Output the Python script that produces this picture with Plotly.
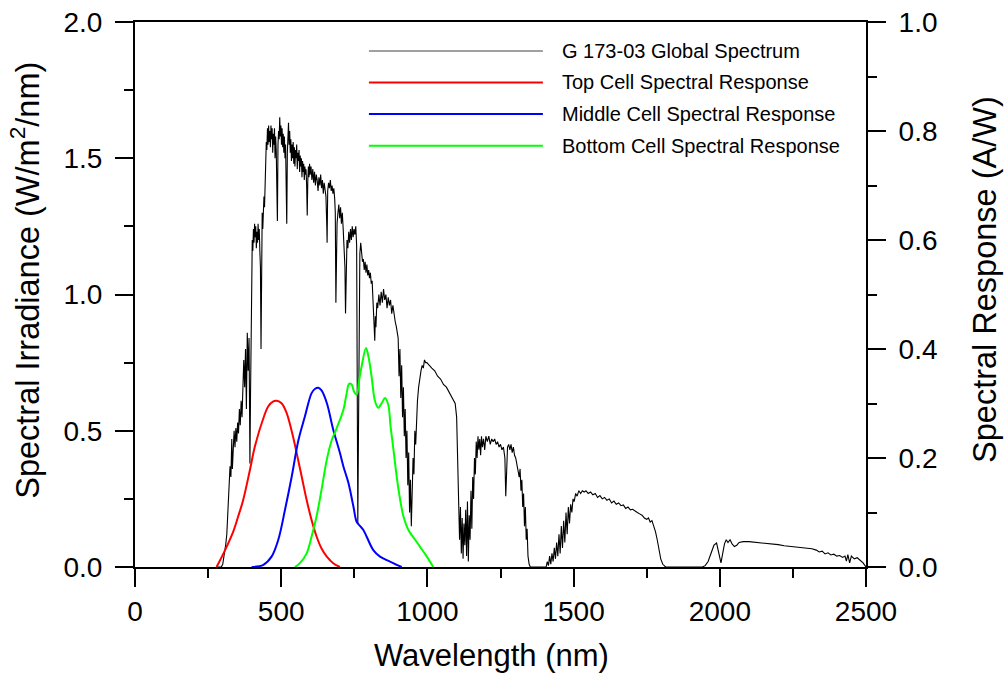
import plotly.graph_objects as go

# ---------------- data ----------------
# ASTM G173-03 global spectrum (nm, W/m^2/nm)
spec_wl = [
    280, 295, 300, 305, 310, 314, 318, 322, 325, 328,
    331, 333, 336, 339, 342, 345, 348, 351, 354, 357,
    360, 363, 366, 369, 372, 375, 378, 381, 384, 387,
    390, 392, 393, 395, 397, 399,
    401, 403, 405, 407, 409, 411, 413, 415, 417, 419,
    421, 423, 425, 427, 429, 431, 433, 435, 437, 439,
    441, 443, 445, 447, 449, 451, 453, 455, 457, 459,
    461, 463, 465, 467, 469, 471, 473, 475, 477, 479,
    481, 483, 485, 487, 489, 491, 493, 495, 497, 499,
    501, 503, 505, 507, 509, 511, 513, 515, 517, 519,
    521, 523, 525, 527, 529, 531, 533, 535, 537, 539,
    541, 543, 545, 547, 549, 551, 553, 555, 557, 559,
    561, 563, 565, 567, 569, 571, 573, 575, 577, 579,
    581, 583, 585, 587, 589, 591, 593, 595, 597, 599,
    602, 605, 608, 611, 614, 617, 620, 623, 626, 629,
    632, 635, 638, 641, 644, 647, 650, 653, 656, 657,
    659, 662, 665, 668, 671, 674, 677, 680, 683, 685,
    687, 689, 691, 694, 697, 700,
    703, 706, 709, 712, 715, 718, 720, 722, 725, 728,
    731, 734, 737, 740, 743, 746, 749, 752, 755, 758,
    760, 762, 764, 766, 769, 772, 775, 778, 781, 784,
    787, 790, 793, 796, 799,
    802, 805, 808, 811, 814, 817, 820, 822, 824, 827,
    830, 834, 838, 842, 846, 850, 854, 858, 862, 866,
    870, 874, 878, 882, 886, 890, 894, 897, 900, 903,
    906, 909, 912, 915, 918, 921, 924, 927, 930, 933,
    936, 939, 942, 945, 948, 951, 954, 957, 960, 963,
    966, 970, 974, 978, 982, 986, 990, 994, 998,
    1005, 1015, 1025, 1035, 1045, 1055, 1065, 1075, 1085, 1095,
    1100, 1104, 1107, 1110, 1113, 1116, 1119, 1122, 1125, 1128,
    1131, 1134, 1137, 1140, 1143, 1146, 1149, 1152, 1155, 1158,
    1161, 1164, 1167, 1170, 1173, 1176, 1179, 1182, 1185, 1188,
    1192, 1196, 1200, 1205, 1210, 1215, 1220, 1225, 1230, 1235,
    1240, 1245, 1250, 1255, 1260, 1265, 1268, 1271, 1274, 1278,
    1282, 1286, 1290, 1294, 1298, 1302, 1306, 1310, 1314, 1317,
    1320, 1323, 1326, 1329, 1332, 1335, 1338, 1341, 1344, 1348,
    1352, 1400,
    1406, 1410, 1414, 1418, 1422, 1426, 1430, 1434, 1438, 1442,
    1446, 1450, 1454, 1458, 1462, 1466, 1470, 1474, 1478, 1482,
    1486, 1490, 1494, 1498, 1502, 1507, 1512, 1518, 1524, 1530,
    1536, 1542, 1550, 1558, 1566, 1574, 1582, 1590, 1598, 1606,
    1614, 1622, 1630, 1638, 1646, 1654, 1662, 1670, 1678, 1686,
    1694, 1702, 1710, 1718, 1726, 1734, 1742, 1750, 1756, 1762,
    1768, 1774, 1780, 1786, 1792, 1798, 1805, 1815,
    1940, 1950, 1960, 1970, 1980, 1989, 1995, 2000, 2004, 2010,
    2016, 2022, 2028, 2035, 2042, 2050, 2058, 2066, 2080, 2100,
    2120, 2140, 2160, 2180, 2200, 2220, 2240, 2260, 2280, 2300,
    2315, 2330, 2340, 2350, 2360, 2370, 2380, 2390, 2400, 2410,
    2420, 2428, 2433, 2438, 2444, 2450, 2460, 2470, 2480, 2490,
    2500,
]
spec_irr = [
    0.0, 0.0, 0.01, 0.04, 0.08, 0.12, 0.20, 0.30, 0.37, 0.33,
    0.47, 0.36, 0.45, 0.50, 0.44, 0.51, 0.46, 0.53, 0.49, 0.58,
    0.52, 0.61, 0.55, 0.70, 0.76, 0.66, 0.80, 0.58, 0.86, 0.72,
    0.84, 0.55, 0.38, 0.62, 0.86, 1.05,
    1.20, 1.16, 1.24, 1.19, 1.26, 1.21, 1.25, 1.17, 1.23, 1.19,
    1.26, 1.20, 1.24, 1.16, 1.10, 0.80, 1.18, 1.30, 1.24, 1.29,
    1.36, 1.32, 1.40, 1.47, 1.56, 1.53, 1.61, 1.55, 1.62, 1.56,
    1.60, 1.54, 1.62, 1.57, 1.61, 1.52, 1.59, 1.55, 1.61, 1.50,
    1.58, 1.53, 1.44, 1.27, 1.55, 1.60, 1.57, 1.65, 1.58, 1.62,
    1.55, 1.61, 1.54, 1.59, 1.52, 1.58, 1.50, 1.55, 1.40, 1.26,
    1.52, 1.58, 1.63, 1.55, 1.60, 1.52, 1.57, 1.49, 1.55, 1.50,
    1.56, 1.48, 1.54, 1.47, 1.53, 1.50, 1.55, 1.46, 1.52, 1.49,
    1.53, 1.45, 1.51, 1.47, 1.50, 1.43, 1.49, 1.45, 1.48, 1.42,
    1.47, 1.44, 1.46, 1.40, 1.29, 1.42, 1.47, 1.43, 1.48, 1.44,
    1.47, 1.42, 1.46, 1.41, 1.45, 1.40, 1.44, 1.42, 1.38, 1.43,
    1.40, 1.44, 1.39, 1.42, 1.37, 1.41, 1.38, 1.36, 1.25, 1.19,
    1.38, 1.41, 1.39, 1.42, 1.38, 1.40, 1.37, 1.39, 1.35, 1.30,
    0.97, 1.15, 1.26, 1.30, 1.33, 1.28,
    1.32, 1.26, 1.30, 1.24, 1.18, 1.10, 0.93, 1.12, 1.20, 1.17,
    1.23, 1.19, 1.24, 1.20, 1.25, 1.21, 1.24, 1.22, 1.25, 1.18,
    0.70, 0.16, 0.45, 0.95, 1.15, 1.19, 1.14, 1.12, 1.13, 1.09,
    1.12, 1.08, 1.11, 1.07, 1.09,
    1.06, 1.08, 1.04, 1.05, 0.98, 0.90, 0.83, 0.92, 0.88, 0.97,
    0.95, 1.00, 0.96, 1.01, 0.97, 1.02, 0.98, 1.00, 0.95, 0.99,
    0.96, 0.98, 0.93, 0.96, 0.92, 0.90, 0.88, 0.86, 0.84, 0.70,
    0.80, 0.62, 0.74, 0.55, 0.66, 0.48, 0.58, 0.40, 0.50, 0.30,
    0.42, 0.20, 0.32, 0.15, 0.28, 0.40, 0.34, 0.50, 0.45, 0.58,
    0.61, 0.66, 0.70, 0.72, 0.74, 0.73, 0.76, 0.75, 0.75,
    0.74, 0.73, 0.72, 0.70, 0.69, 0.67, 0.66, 0.64, 0.62, 0.60,
    0.55, 0.40, 0.24, 0.10, 0.22, 0.05, 0.18, 0.03, 0.16, 0.08,
    0.21, 0.04, 0.24, 0.02, 0.19, 0.10, 0.28, 0.14, 0.33, 0.25,
    0.40, 0.34, 0.46, 0.40, 0.48, 0.43, 0.47, 0.41, 0.48, 0.44,
    0.47, 0.43, 0.48, 0.46, 0.48, 0.45, 0.47, 0.46, 0.47, 0.45,
    0.46, 0.44, 0.45, 0.43, 0.44, 0.40, 0.26, 0.38, 0.44, 0.45,
    0.43, 0.45, 0.42, 0.44, 0.41, 0.40, 0.38, 0.36, 0.33, 0.36,
    0.28, 0.32, 0.22, 0.27, 0.15, 0.22, 0.10, 0.14, 0.04, 0.01,
    0.0, 0.0,
    0.0, 0.02, 0.005, 0.04, 0.01, 0.05, 0.02, 0.07, 0.03, 0.09,
    0.04, 0.12, 0.05, 0.15, 0.07, 0.17, 0.09, 0.20, 0.12, 0.22,
    0.16, 0.23, 0.20, 0.25, 0.24, 0.27, 0.26, 0.28, 0.27, 0.28,
    0.275, 0.28, 0.27, 0.275, 0.265, 0.27, 0.255, 0.262, 0.25, 0.255,
    0.245, 0.25, 0.235, 0.242, 0.23, 0.235, 0.225, 0.228, 0.215, 0.22,
    0.21, 0.212, 0.205, 0.20, 0.195, 0.19, 0.18, 0.175, 0.18, 0.165,
    0.17, 0.15, 0.13, 0.10, 0.06, 0.03, 0.01, 0.0,
    0.0, 0.005, 0.02, 0.05, 0.08, 0.088, 0.06, 0.04, 0.015, 0.05,
    0.085, 0.10, 0.09, 0.10, 0.085, 0.075, 0.08, 0.09, 0.093, 0.093,
    0.091, 0.089, 0.087, 0.084, 0.082, 0.078, 0.076, 0.074, 0.072, 0.069,
    0.067, 0.062, 0.055, 0.058, 0.048, 0.052, 0.044, 0.047, 0.040, 0.042,
    0.035, 0.040, 0.022, 0.045, 0.015, 0.040, 0.030, 0.034, 0.025, 0.015,
    0.0,
]

# Spectral responses (nm, A/W)
top_wl = [279, 308, 336, 353, 370, 393, 410, 439, 456, 473, 485, 502,
          519, 536, 553, 570, 587, 604, 621, 638, 656, 678, 701]
top_sr = [0.0, 0.031, 0.065, 0.093, 0.123, 0.178, 0.221, 0.273, 0.295,
          0.304, 0.305, 0.300, 0.282, 0.249, 0.209, 0.166, 0.123, 0.086,
          0.056, 0.034, 0.019, 0.007, 0.0]

mid_wl = [399, 439, 467, 490, 513, 536, 559, 581, 604, 616, 627, 638,
          656, 678, 701, 713, 730, 747, 758, 770, 781, 792, 815, 838,
          872, 912]
mid_sr = [0.0, 0.004, 0.019, 0.050, 0.105, 0.166, 0.233, 0.276, 0.319,
          0.327, 0.329, 0.324, 0.301, 0.252, 0.209, 0.184, 0.154, 0.111,
          0.083, 0.075, 0.068, 0.056, 0.031, 0.019, 0.010, 0.0]

bot_wl = [547, 564, 587, 604, 621, 638, 656, 673, 690, 713, 724, 732,
          741, 749, 758, 767, 775, 790, 798, 809, 821, 832, 844, 855,
          866, 874, 884, 895, 907, 918, 935, 958, 975, 998, 1020]
bot_sr = [0.0, 0.007, 0.025, 0.056, 0.093, 0.142, 0.197, 0.233, 0.255,
          0.289, 0.319, 0.336, 0.335, 0.322, 0.316, 0.344, 0.368, 0.402,
          0.387, 0.350, 0.304, 0.292, 0.301, 0.310, 0.298, 0.258, 0.215,
          0.166, 0.123, 0.093, 0.068, 0.050, 0.037, 0.019, 0.0]

legend_labels = ["G 173-03 Global Spectrum", "Top Cell Spectral Response",
                 "Middle Cell Spectral Response", "Bottom Cell Spectral Response"]
x_ticks = [0, 500, 1000, 1500, 2000, 2500]
y_left_ticks = [0.0, 0.5, 1.0, 1.5, 2.0]
y_right_ticks = [0.0, 0.2, 0.4, 0.6, 0.8, 1.0]

# ---------------- figure ----------------
FONT = "Liberation Sans, Arial, sans-serif"
fig = go.Figure()
fig.add_trace(go.Scatter(x=spec_wl, y=spec_irr, mode="lines",
                         line=dict(color="black", width=1.1), name=legend_labels[0],
                         yaxis="y"))
fig.add_trace(go.Scatter(x=top_wl, y=top_sr, mode="lines", line_shape="spline",
                         line=dict(color="#FF0000", width=2), name=legend_labels[1],
                         yaxis="y2"))
fig.add_trace(go.Scatter(x=mid_wl, y=mid_sr, mode="lines", line_shape="spline",
                         line=dict(color="#0000FF", width=2), name=legend_labels[2],
                         yaxis="y2"))
fig.add_trace(go.Scatter(x=bot_wl, y=bot_sr, mode="lines", line_shape="spline",
                         line=dict(color="#00FF00", width=2), name=legend_labels[3],
                         yaxis="y2"))

axis_common = dict(showgrid=False, zeroline=False, showline=True, linecolor="black",
                   linewidth=2, ticks="outside", ticklen=18, tickwidth=2,
                   tickcolor="black", tickfont=dict(size=28, color="black", family=FONT),
                   automargin=False)

fig.update_layout(
    width=1005, height=673,
    margin=dict(l=135, r=139, t=22, b=106),
    paper_bgcolor="white", plot_bgcolor="white",
    showlegend=False,
    font=dict(family=FONT, color="black"),
    xaxis=dict(range=[0, 2500], tickvals=x_ticks, mirror=True, ticklabelstandoff=0,
               minor=dict(dtick=250, tick0=0, ticks="outside", ticklen=9,
                          tickwidth=2, tickcolor="black"),
               **axis_common),
    yaxis=dict(range=[0, 2.0], tickvals=y_left_ticks, tickformat=".1f",
               ticklabelstandoff=7,
               minor=dict(dtick=0.25, tick0=0, ticks="outside", ticklen=9,
                          tickwidth=2, tickcolor="black"),
               **axis_common),
    yaxis2=dict(range=[0, 1.0], tickvals=y_right_ticks, tickformat=".1f",
                overlaying="y", side="right", ticklabelstandoff=7,
                minor=dict(dtick=0.1, tick0=0, ticks="outside", ticklen=9,
                           tickwidth=2, tickcolor="black"),
                **axis_common),
)

# axis titles
fig.add_annotation(text="Wavelength (nm)", xref="paper", yref="paper",
                   x=0.488, y=-0.1615, xanchor="center", yanchor="middle",
                   showarrow=False, font=dict(size=31, color="black", family=FONT))
fig.add_annotation(text="Spectral Irradiance (W/m<sup>2</sup>/nm)", xref="paper",
                   yref="paper", x=-0.1505, y=0.527, xanchor="center",
                   yanchor="middle", textangle=-90, showarrow=False,
                   font=dict(size=32.5, color="black", family=FONT))
fig.add_annotation(text="Spectral Response (A/W)", xref="paper", yref="paper",
                   x=1.163, y=0.527, xanchor="center", yanchor="middle",
                   textangle=-90, showarrow=False,
                   font=dict(size=32.5, color="black", family=FONT))

# manual legend
leg_colors = ["#808080", "#FF0000", "#0000FF", "#00FF00"]
leg_widths = [1.5, 2, 2, 2]
leg_y = [0.947, 0.889, 0.831, 0.773]
for lab, col, w, yy in zip(legend_labels, leg_colors, leg_widths, leg_y):
    fig.add_shape(type="line", xref="paper", yref="paper", x0=0.320, x1=0.558,
                  y0=yy, y1=yy, line=dict(color=col, width=w))
    fig.add_annotation(text=lab, xref="paper", yref="paper", x=0.582, y=yy,
                       xanchor="left", yanchor="middle", showarrow=False,
                       font=dict(size=20, color="black", family=FONT))

fig.write_html("out.html")
